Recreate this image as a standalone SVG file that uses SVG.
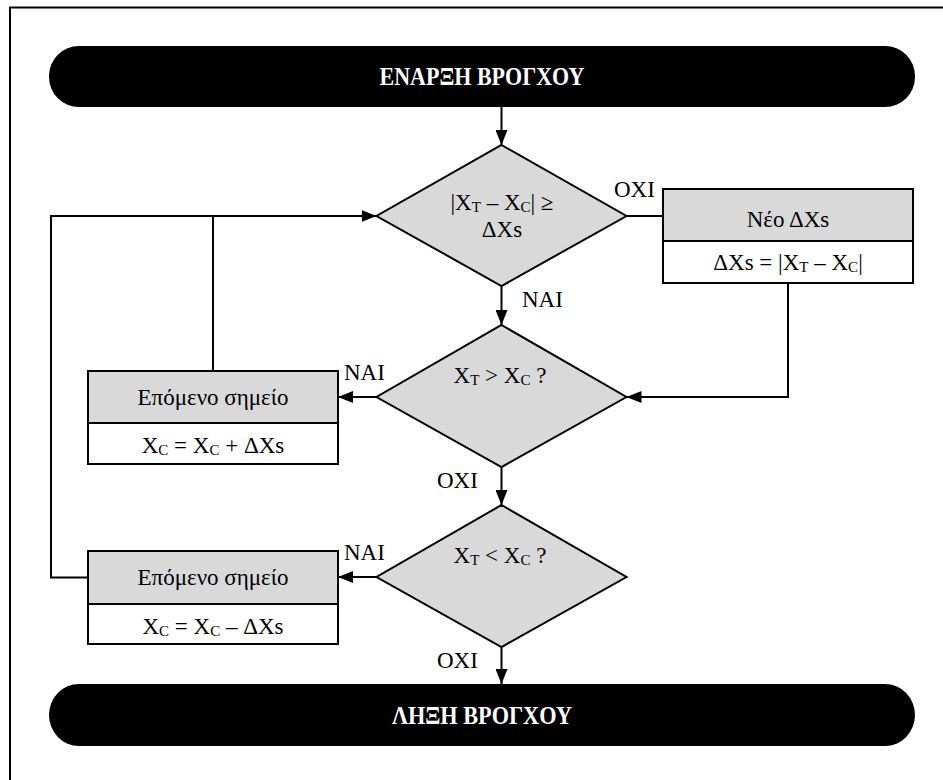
<svg xmlns="http://www.w3.org/2000/svg" width="943" height="780" viewBox="0 0 943 780" font-family="'Liberation Serif', 'Times New Roman', 'DejaVu Serif', serif">
  <style>
    text { font-family: "Liberation Serif", "Times New Roman", "DejaVu Serif", serif; }
    .t { font-size: 23px; fill: #000; }
    .c { text-anchor: middle; }
    .term { fill: #000; }
    .termtxt { font-size: 25px; font-weight: bold; fill: #fff; text-anchor: middle; }
    .dia { fill: #d9d9d9; stroke: #000; stroke-width: 2; }
    .head { fill: #d9d9d9; stroke: #000; stroke-width: 2; }
    .body { fill: #fff; stroke: #000; stroke-width: 2; }
    .ln { fill: none; stroke: #000; stroke-width: 2; }
    .sub { font-size: 15px; }
  </style>
  <defs>
    <marker id="arrow" viewBox="0 0 15 12" refX="15" refY="6" markerWidth="15" markerHeight="12" markerUnits="userSpaceOnUse" orient="auto">
      <path d="M0,0 L15,6 L0,12 Z" fill="#000"/>
    </marker>
  </defs>

  <rect width="943" height="780" fill="#fff"/>
  <!-- page frame -->
  <path d="M10,790 L10,7.5 L950,7.5" class="ln"/>

  <!-- connectors -->
  <g id="connectors">
    <path d="M501.5,107 L501.5,145" class="ln" marker-end="url(#arrow)"/>
    <path d="M626.5,216 L663,216" class="ln"/>
    <path d="M788,283 L788,397 L626.5,397" class="ln" marker-end="url(#arrow)"/>
    <path d="M501.5,286 L501.5,325" class="ln" marker-end="url(#arrow)"/>
    <path d="M376.5,397 L338,397" class="ln" marker-end="url(#arrow)"/>
    <path d="M501.5,467 L501.5,505" class="ln" marker-end="url(#arrow)"/>
    <path d="M376.5,577 L338,577" class="ln" marker-end="url(#arrow)"/>
    <path d="M501.5,647 L501.5,684" class="ln" marker-end="url(#arrow)"/>
    <path d="M88,577.5 L51,577.5 L51,216 L376.5,216" class="ln" marker-end="url(#arrow)"/>
    <path d="M213,371 L213,216" class="ln"/>
    <!-- branch labels -->
    <text x="614" y="197" class="t">ΟΧΙ</text>
    <text x="522" y="307" class="t">ΝΑΙ</text>
    <text x="344" y="380" class="t">ΝΑΙ</text>
    <text x="437" y="488" class="t">ΟΧΙ</text>
    <text x="344" y="560" class="t">ΝΑΙ</text>
    <text x="437" y="668" class="t">ΟΧΙ</text>
  </g>

  <g id="start">
    <rect x="49" y="46" width="866" height="61" rx="30" ry="30" class="term"/>
    <text x="482" y="85" class="termtxt" textLength="205" lengthAdjust="spacingAndGlyphs">ΕΝΑΡΞΗ ΒΡΟΓΧΟΥ</text>
  </g>

  <g id="check-step">
    <polygon points="501.5,145 626.5,216 501.5,286 376.5,216" class="dia"/>
    <text x="502" y="210" class="t c">|X<tspan class="sub" dy="2">T</tspan><tspan dy="-2"> – X</tspan><tspan class="sub" dy="2">C</tspan><tspan dy="-2">| ≥</tspan></text>
    <text x="502" y="237" class="t c">ΔXs</text>
  </g>

  <g id="new-step">
    <rect x="663" y="189" width="250" height="52" class="head"/>
    <rect x="663" y="241" width="250" height="42" class="body"/>
    <text x="788" y="227" class="t c">Νέο ΔXs</text>
    <text x="788" y="270" class="t c">ΔXs = |X<tspan class="sub" dy="2">T</tspan><tspan dy="-2"> – X</tspan><tspan class="sub" dy="2">C</tspan><tspan dy="-2">|</tspan></text>
  </g>

  <g id="greater">
    <polygon points="501.5,325 626.5,397 501.5,467 376.5,397" class="dia"/>
    <text x="500" y="383" class="t c">X<tspan class="sub" dy="2">T</tspan><tspan dy="-2"> &gt; X</tspan><tspan class="sub" dy="2">C</tspan><tspan dy="-2"> ?</tspan></text>
  </g>

  <g id="next-plus">
    <rect x="88" y="371" width="250" height="52" class="head"/>
    <rect x="88" y="423" width="250" height="41" class="body"/>
    <text x="213" y="405" class="t c">Επόμενο σημείο</text>
    <text x="213" y="453" class="t c">X<tspan class="sub" dy="2">C</tspan><tspan dy="-2"> = X</tspan><tspan class="sub" dy="2">C</tspan><tspan dy="-2"> + ΔXs</tspan></text>
  </g>

  <g id="less">
    <polygon points="501.5,505 626.5,577 501.5,647 376.5,577" class="dia"/>
    <text x="500" y="563" class="t c">X<tspan class="sub" dy="2">T</tspan><tspan dy="-2"> &lt; X</tspan><tspan class="sub" dy="2">C</tspan><tspan dy="-2"> ?</tspan></text>
  </g>

  <g id="next-minus">
    <rect x="88" y="551" width="250" height="53" class="head"/>
    <rect x="88" y="604" width="250" height="40" class="body"/>
    <text x="213" y="585" class="t c">Επόμενο σημείο</text>
    <text x="213" y="634" class="t c">X<tspan class="sub" dy="2">C</tspan><tspan dy="-2"> = X</tspan><tspan class="sub" dy="2">C</tspan><tspan dy="-2"> – ΔXs</tspan></text>
  </g>

  <g id="end">
    <rect x="49" y="684" width="866" height="62" rx="30" ry="31" class="term"/>
    <text x="482" y="724" class="termtxt" textLength="180" lengthAdjust="spacingAndGlyphs">ΛΗΞΗ ΒΡΟΓΧΟΥ</text>
  </g>
</svg>
